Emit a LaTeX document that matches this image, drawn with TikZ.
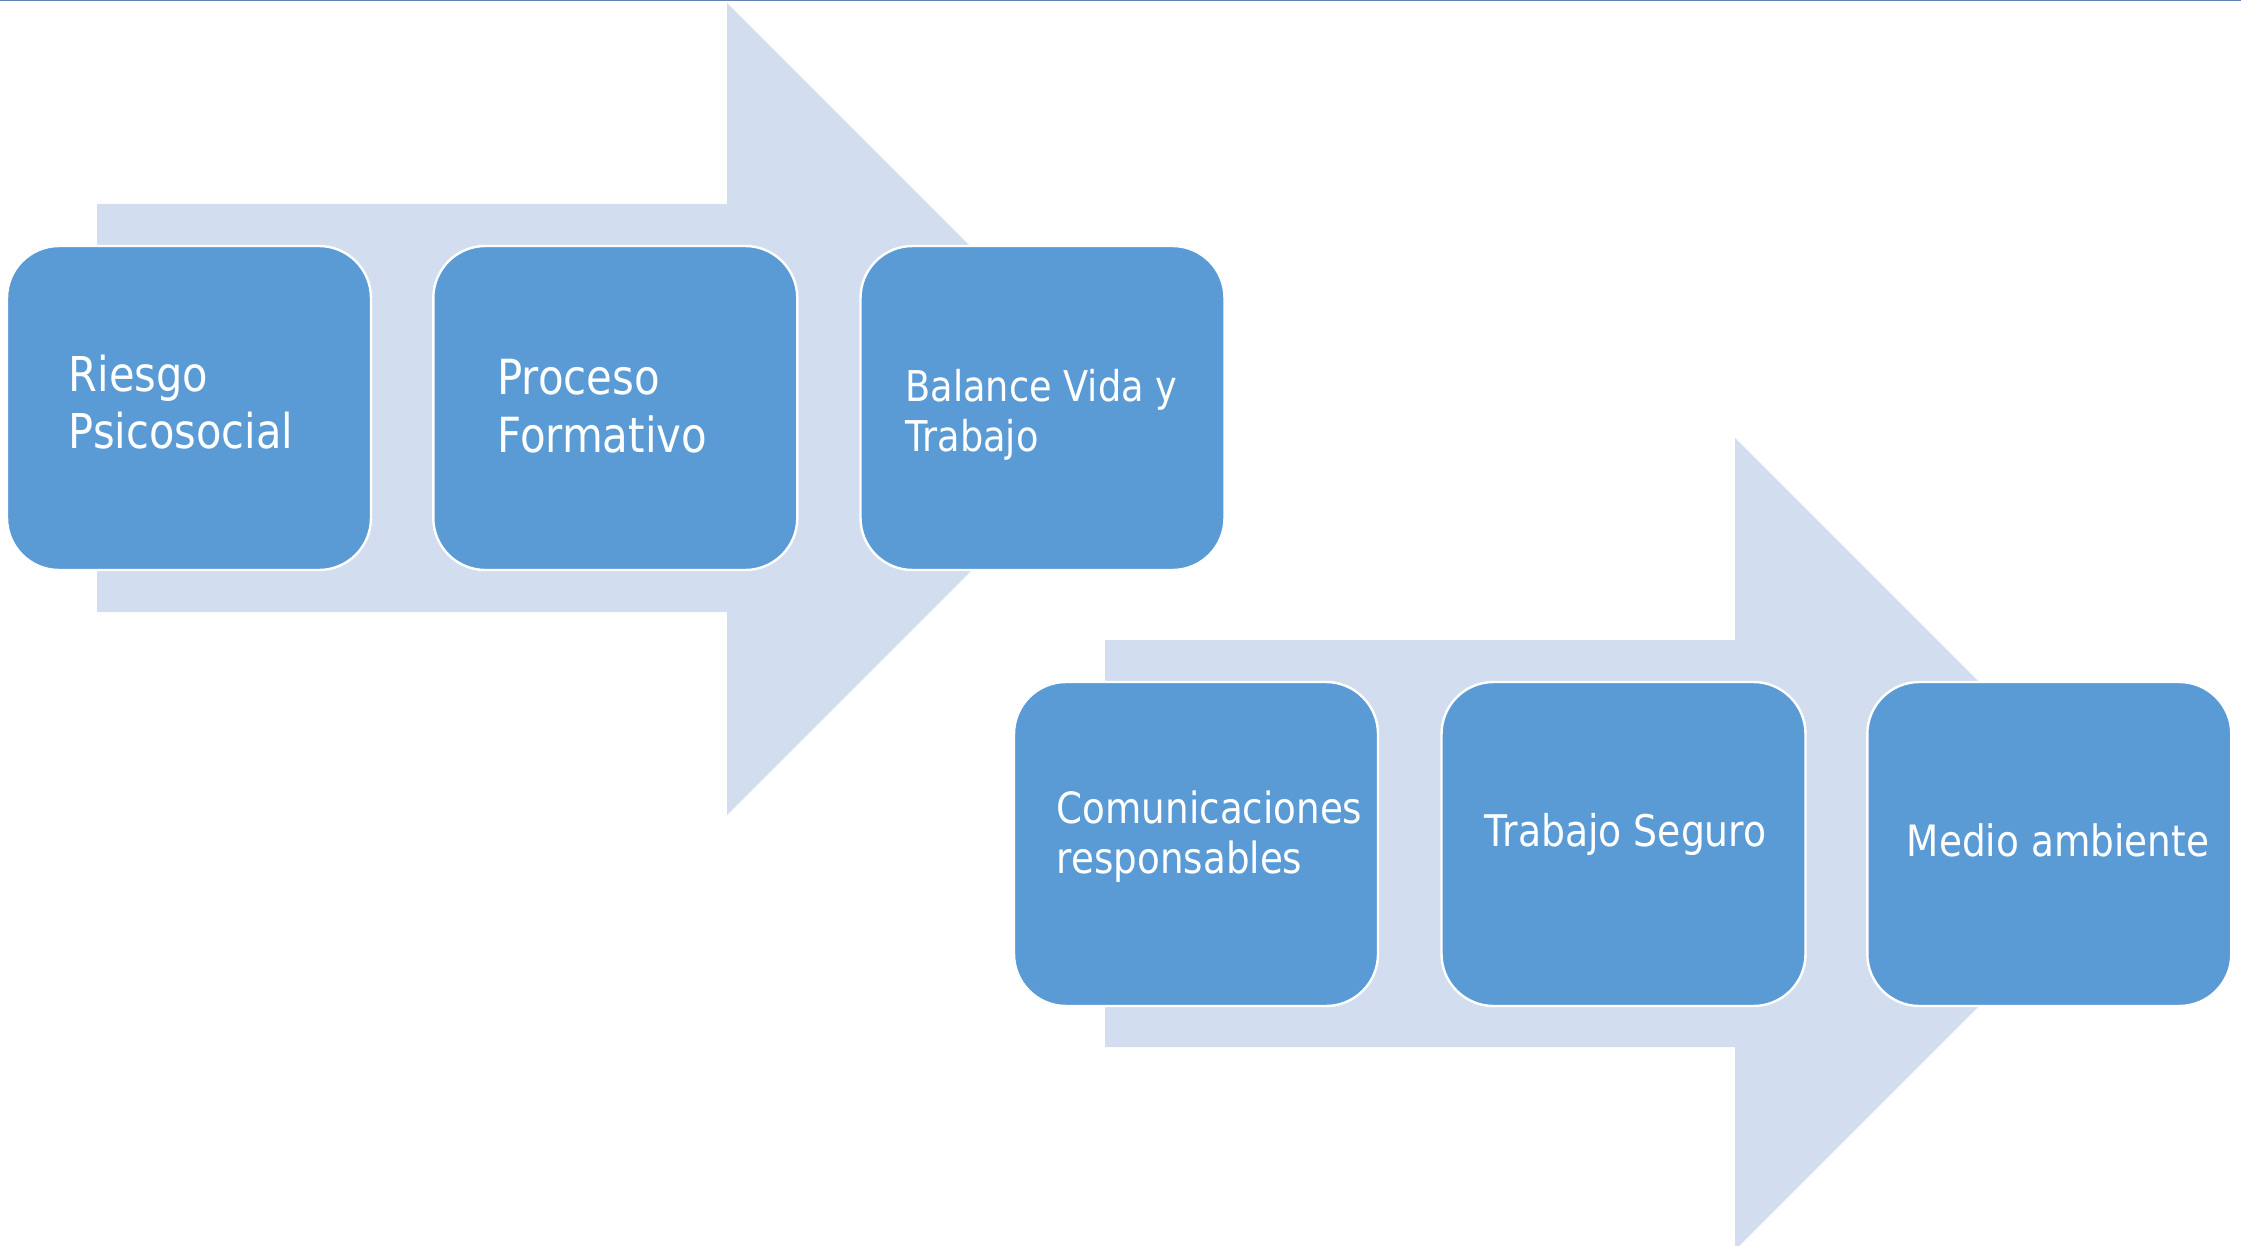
\documentclass[tikz,border=0pt]{standalone}
\usepackage{fontspec}
\newfontfamily\boxfont[FakeStretch=0.866]{DejaVu Sans}
\definecolor{boxblue}{HTML}{5B9BD5}
\definecolor{arrowfill}{HTML}{D2DEEF}
\definecolor{toplinec}{HTML}{6481B3}
\begin{document}
\begin{tikzpicture}[x=0.5pt,y=-0.5pt,
  stepbox/.style={draw=white, line width=1.2pt, fill=boxblue, rounded corners=26pt,
    minimum width=182pt, minimum height=162pt, inner sep=0pt},
  lbl/.style={text=white, inner sep=0pt, anchor=base west, font=\boxfont},
  arr/.style={fill=arrowfill, draw=none}]
\useasboundingbox (0,0) rectangle (2241,1246);
\clip (0,0) rectangle (2241,1246);
% background arrows
\fill[arr] (97,204) -- (727,204) -- (727,3) -- (1133,409) -- (727,815) -- (727,612) -- (97,612) -- cycle;
\fill[arr] (1105,640) -- (1735,640) -- (1735,438) -- (2141,844) -- (1735,1250) -- (1735,1047) -- (1105,1047) -- cycle;
% top rule
\draw[toplinec, line width=0.75pt] (0,0.75) -- (2241,0.75);
% boxes
\node[stepbox] (b1) at (189,408) {};
\node[stepbox] (b2) at (615.3,408) {};
\node[stepbox] (b3) at (1042.5,408) {};
\node[stepbox] (b4) at (1196,844) {};
\node[stepbox] (b5) at (1623.5,844) {};
\node[stepbox] (b6) at (2049.3,844) {};
% labels
\node[lbl] (t1) at (68.5,391.7) {\fontsize{24}{28.2}\selectfont\begin{tabular}[t]{@{}l@{}}Riesgo\\Psicosocial\end{tabular}};
\node[lbl] (t2) at (497,394) {\fontsize{24.2}{29}\selectfont\begin{tabular}[t]{@{}l@{}}Proceso\\Formativo\end{tabular}};
\node[lbl] (t3) at (905,401.7) {\fontsize{21.2}{25}\selectfont\begin{tabular}[t]{@{}l@{}}Balance Vida y\\Trabajo\end{tabular}};
\node[lbl] (t4) at (1056.5,823.3) {\fontsize{21.5}{25}\selectfont\begin{tabular}[t]{@{}l@{}}Comunicaciones\\responsables\end{tabular}};
\node[lbl] (t5) at (1484.5,846.7) {\fontsize{21.8}{25}\selectfont Trabajo Seguro};
\node[lbl] (t6) at (1906.5,856) {\fontsize{21.6}{25}\selectfont Medio ambiente};
\end{tikzpicture}
\end{document}
